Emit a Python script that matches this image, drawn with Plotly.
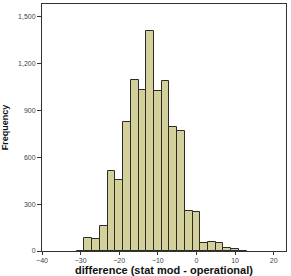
import plotly.graph_objects as go

bin_centers = [-30, -28, -26, -24, -22, -20, -18, -16, -14, -12, -10, -8, -6, -4, -2, 0, 2, 4, 6, 8, 10, 12]
counts = [3, 85, 76, 160, 512, 457, 827, 1095, 1032, 1407, 1023, 1087, 796, 770, 258, 251, 53, 59, 51, 21, 15, 3]
y_ticks = [0, 300, 600, 900, 1200, 1500]
x_ticks = [-40, -30, -20, -10, 0, 10, 20]

fig = go.Figure(go.Bar(
    x=bin_centers, y=counts, width=2,
    marker=dict(color="#d4d09a", line=dict(color="#2b2b2b", width=1)),
))

tickfont = dict(family="Liberation Sans", size=7, color="#444")

fig.update_layout(
    width=291, height=276,
    margin=dict(l=42, r=5, t=3, b=23),
    paper_bgcolor="white", plot_bgcolor="white",
    showlegend=False, bargap=0,
    xaxis=dict(range=[-40, 23.2], tickvals=x_ticks, ticks="outside", ticklen=3,
               tickcolor="#333", showline=True, mirror=True, linecolor="#333",
               linewidth=1, showgrid=False, zeroline=False, tickfont=tickfont,
               title=dict(text="<b>difference (stat mod - operational)</b>",
                          font=dict(family="Liberation Sans", size=11, color="#111"), standoff=1)),
    yaxis=dict(range=[0, 1580], tickvals=y_ticks, tickformat=",", ticks="outside", ticklen=4,
               tickcolor="#333", showline=True, mirror=True, linecolor="#333",
               linewidth=1, showgrid=False, zeroline=False, tickfont=tickfont,
               title=dict(text="<b>Frequency</b>", font=dict(family="Liberation Sans", size=9, color="#111"), standoff=8)),
)

fig.write_html("out.html")
